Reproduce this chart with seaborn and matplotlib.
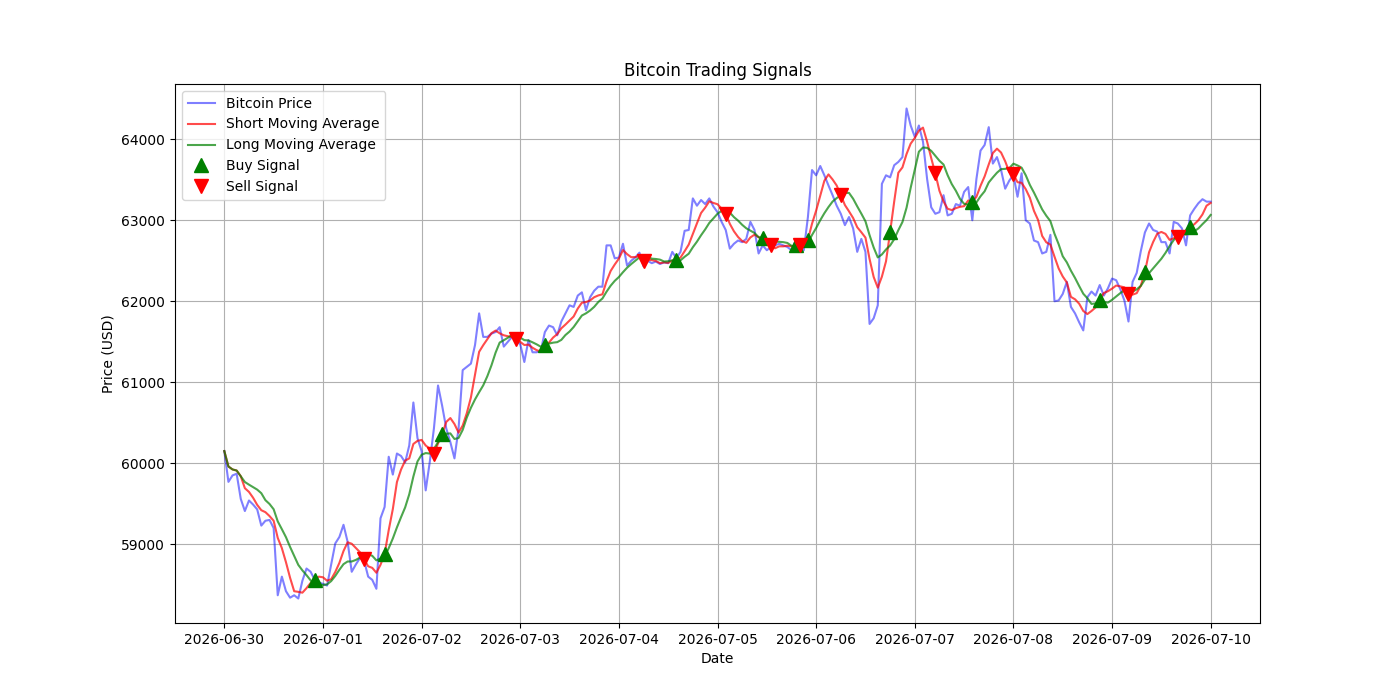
import matplotlib
matplotlib.use("Agg")
import matplotlib.pyplot as plt
import matplotlib.dates as mdates
import seaborn as sns
import pandas as pd

# hourly prices, 2026-06-30 00:00 .. 2026-07-10 00:00
price = [
    60150, 59770, 59850, 59870, 59560, 59410, 59540, 59490, 59430, 59230, 59290, 59300,
    59200, 58370, 58600, 58420, 58340, 58370, 58330, 58550, 58700, 58660, 58560, 58530,
    58510, 58490, 58750, 59010, 59090, 59240, 59030, 58660, 58750, 58830, 58800, 58600,
    58560, 58450, 59320, 59460, 60080, 59860, 60120, 60090, 60010, 60220, 60750, 60310,
    60150, 59665, 60020, 60430, 60960, 60710, 60430, 60260, 60060, 60430, 61150, 61190,
    61230, 61460, 61850, 61560, 61560, 61600, 61620, 61680, 61440, 61500, 61560, 61520,
    61470, 61250, 61520, 61370, 61370, 61390, 61620, 61700, 61680, 61580, 61750, 61850,
    61950, 61930, 62070, 62110, 61890, 62050, 62130, 62180, 62180, 62690, 62690, 62530,
    62540, 62710, 62440, 62500, 62540, 62600, 62430, 62500, 62470, 62490, 62460, 62480,
    62470, 62610, 62530, 62610, 62870, 62880, 63270, 63180, 63250, 63200, 63270, 63170,
    63100, 62980, 62880, 62650, 62710, 62750, 62730, 62770, 62980, 62880, 62590, 62690,
    62630, 62670, 62690, 62710, 62690, 62670, 62630, 62750, 62750, 62630, 63040, 63620,
    63555, 63670, 63555, 63430, 63310, 63180, 63080, 62940, 63040, 62900, 62610, 62770,
    62610, 61720, 61790, 61950, 63450, 63555, 63530, 63680, 63720, 63780, 64380, 64170,
    64030, 64170, 63970, 63510, 63160, 63080, 63100, 63310, 63060, 63080, 63200, 63180,
    63350, 63410, 63000, 63510, 63860, 63930, 64150, 63700, 63780, 63620, 63390, 63490,
    63560, 63290, 63580, 63000, 62960, 62750, 62730, 62590, 62610, 62820, 62000, 62010,
    62090, 62240, 61930, 61850, 61740, 61640, 62050, 62120, 62070, 62200, 62070, 62160,
    62280, 62260, 62150, 62010, 61750, 62240, 62350, 62620, 62850, 62960, 62880, 62860,
    62730, 62730, 62590, 62980, 62960, 62900, 62690, 63060, 63140, 63210, 63260, 63230,
    63230,
]

buy_times = ["2026-06-30 22:00", "2026-07-01 15:00", "2026-07-02 05:00", "2026-07-03 06:00",
             "2026-07-04 14:00", "2026-07-05 11:00", "2026-07-05 19:00", "2026-07-05 22:00",
             "2026-07-06 18:00", "2026-07-07 14:00", "2026-07-08 21:00", "2026-07-09 08:00",
             "2026-07-09 19:00"]
sell_times = ["2026-07-01 10:00", "2026-07-02 03:00", "2026-07-02 23:00", "2026-07-04 06:00",
              "2026-07-05 02:00", "2026-07-05 13:00", "2026-07-05 20:00", "2026-07-06 06:00",
              "2026-07-07 05:00", "2026-07-08 00:00", "2026-07-09 04:00", "2026-07-09 16:00"]

short_window = 5
long_window = 10

dates = pd.date_range("2026-06-30", periods=len(price), freq="h")
df = pd.DataFrame({"Date": dates, "Price": price}).set_index("Date")
df["short_mavg"] = df["Price"].rolling(short_window, min_periods=1).mean()
df["long_mavg"] = df["Price"].rolling(long_window, min_periods=1).mean()

buys = df.loc[pd.to_datetime(buy_times)]
sells = df.loc[pd.to_datetime(sell_times)]

fig, ax = plt.subplots(figsize=(14, 7), dpi=100)

sns.lineplot(x=df.index, y=df["Price"], ax=ax, color="blue", alpha=0.5, label="Bitcoin Price")
sns.lineplot(x=df.index, y=df["short_mavg"], ax=ax, color="red", alpha=0.7, label="Short Moving Average")
sns.lineplot(x=df.index, y=df["long_mavg"], ax=ax, color="green", alpha=0.7, label="Long Moving Average")

ax.plot(buys.index, buys["short_mavg"], "^", markersize=10, color="g", linestyle="none", label="Buy Signal")
ax.plot(sells.index, sells["short_mavg"], "v", markersize=10, color="r", linestyle="none", label="Sell Signal")

ax.xaxis.set_major_locator(mdates.DayLocator())
ax.xaxis.set_major_formatter(mdates.DateFormatter("%Y-%m-%d"))

ax.set_title("Bitcoin Trading Signals")
ax.set_xlabel("Date")
ax.set_ylabel("Price (USD)")
ax.legend(loc="upper left")
ax.grid(True)

plt.savefig("out.png")
